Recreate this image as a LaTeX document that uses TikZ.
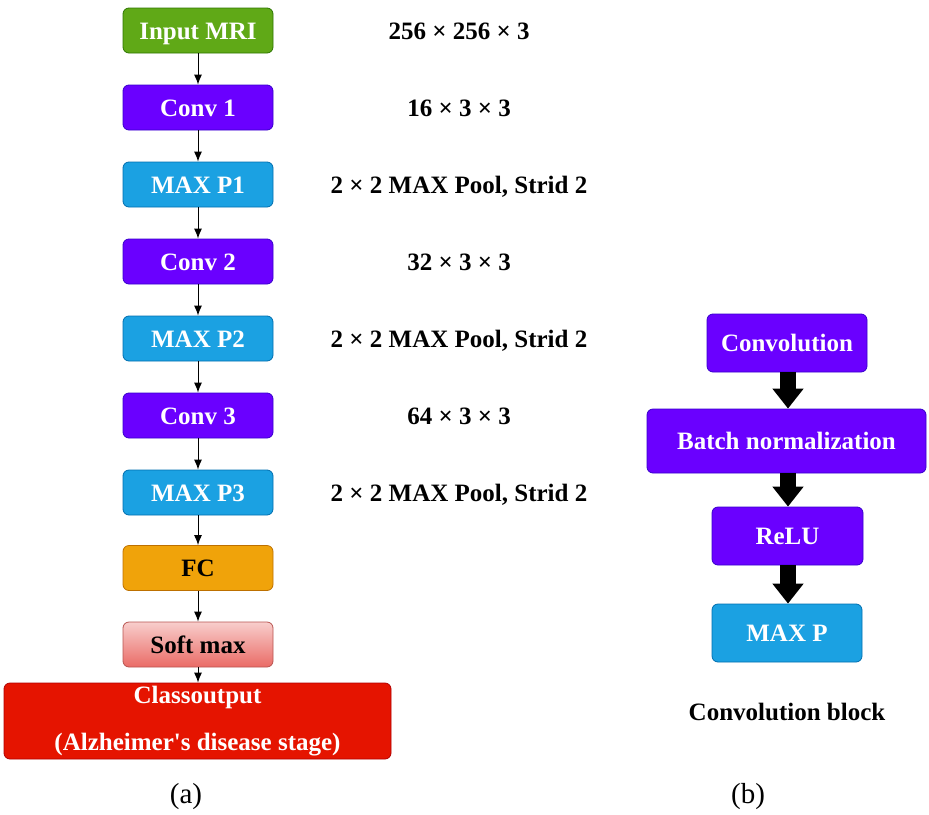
\documentclass[tikz,border=0pt]{standalone}
\usepackage{fontspec}
\setmainfont{Liberation Serif}
\usepackage{xcolor}
\usetikzlibrary{arrows.meta}
\definecolor{inpgreen}{HTML}{60A917}
\definecolor{inpgreenline}{HTML}{2D7600}
\definecolor{convpurple}{HTML}{6A00FF}
\definecolor{convpurpleline}{HTML}{3700CC}
\definecolor{poolblue}{HTML}{1BA1E2}
\definecolor{poolblueline}{HTML}{006EAF}
\definecolor{fcorange}{HTML}{F0A30A}
\definecolor{fcorangeline}{HTML}{BD7000}
\definecolor{softtop}{HTML}{F8CECC}
\definecolor{softbottom}{HTML}{EA6B66}
\definecolor{softline}{HTML}{B85450}
\definecolor{outred}{HTML}{E51400}
\definecolor{outredline}{HTML}{B20000}
\tikzset{
  font={\fontsize{25pt}{30pt}\selectfont\bfseries}}

\begin{document}
\begin{tikzpicture}[x=1pt, y=1pt]

    \tikzset{box/.style = {rounded corners=6pt, line width=0.8pt, inner sep=0pt, minimum width=150pt, minimum height=45pt},
             oneline/.style = {text height=17pt, text depth=0pt},
             inp/.style = {box, oneline, fill=inpgreen, draw=inpgreenline, text=white},
             conv/.style = {box, oneline, fill=convpurple, draw=convpurpleline, text=white},
             pool/.style = {box, oneline, fill=poolblue, draw=poolblueline, text=white},
             edge/.style = {-{Latex[length=10pt,width=8pt]}, line width=1pt},
             bigedge/.style = {-{Triangle[length=20pt,width=30pt]}, line width=16pt}}

    \useasboundingbox (0,0) rectangle (929,-814);

    % vertices (a)
    \node[inp] (inp) at (198,-30.5) {Input MRI};
    \node[conv] (c1) at (198,-107.5) {Conv 1};
    \node[pool] (p1) at (198,-184.5) {MAX P1};
    \node[conv] (c2) at (198,-261.5) {Conv 2};
    \node[pool] (p2) at (198,-338.5) {MAX P2};
    \node[conv] (c3) at (198,-415.5) {Conv 3};
    \node[pool] (p3) at (198,-492.5) {MAX P3};
    \node[box, oneline, fill=fcorange, draw=fcorangeline] (fc) at (198,-568) {FC};
    \node[box, oneline, top color=softtop, bottom color=softbottom, draw=softline] (sm) at (198,-644.5) {Soft max};
    \node[box, fill=outred, draw=outredline, text=white, minimum width=387pt, minimum height=76pt, align=center] (out) at (197.5,-721) {Classoutput\\[17pt](Alzheimer\textquotesingle s disease stage)};

    % sizes
    \node[oneline] (s0) at (459,-30.5) {256 × 256 × 3};
    \node[oneline] (s1) at (459,-107.5) {16 × 3 × 3};
    \node[oneline] (s2) at (459,-184.5) {2 × 2 MAX Pool, Strid 2};
    \node[oneline] (s3) at (459,-261.5) {32 × 3 × 3};
    \node[oneline] (s4) at (459,-338.5) {2 × 2 MAX Pool, Strid 2};
    \node[oneline] (s5) at (459,-415.5) {64 × 3 × 3};
    \node[oneline] (s6) at (459,-492.5) {2 × 2 MAX Pool, Strid 2};

    % vertices (b)
    \node[conv, minimum width=160pt, minimum height=58pt] (bconv) at (787,-343) {Convolution};
    \node[conv, minimum width=279pt, minimum height=64pt] (bnorm) at (786.5,-441) {Batch normalization};
    \node[conv, minimum width=151pt, minimum height=58pt] (brelu) at (787.5,-536) {ReLU};
    \node[pool, minimum width=150pt, minimum height=58pt] (bpool) at (787,-633) {MAX P};
    \node[oneline] (btitle) at (787,-712) {Convolution block};

    % captions
    \node[font={\fontsize{29pt}{34pt}\selectfont}] (capa) at (186,-797) {(a)};
    \node[font={\fontsize{29pt}{34pt}\selectfont}] (capb) at (748,-797) {(b)};

    %edges
    \draw[edge] (inp) -- (c1);
    \draw[edge] (c1) -- (p1);
    \draw[edge] (p1) -- (c2);
    \draw[edge] (c2) -- (p2);
    \draw[edge] (p2) -- (c3);
    \draw[edge] (c3) -- (p3);
    \draw[edge] (p3) -- (fc);
    \draw[edge] (fc) -- (sm);
    \draw[edge] (sm) -- (sm.south |- out.north);
    \draw[bigedge] (bconv.south -| 788,0) -- (bnorm.north -| 788,0);
    \draw[bigedge] (bnorm.south -| 788,0) -- (brelu.north -| 788,0);
    \draw[bigedge] (brelu.south -| 788,0) -- (bpool.north -| 788,0);

\end{tikzpicture}
\end{document}
